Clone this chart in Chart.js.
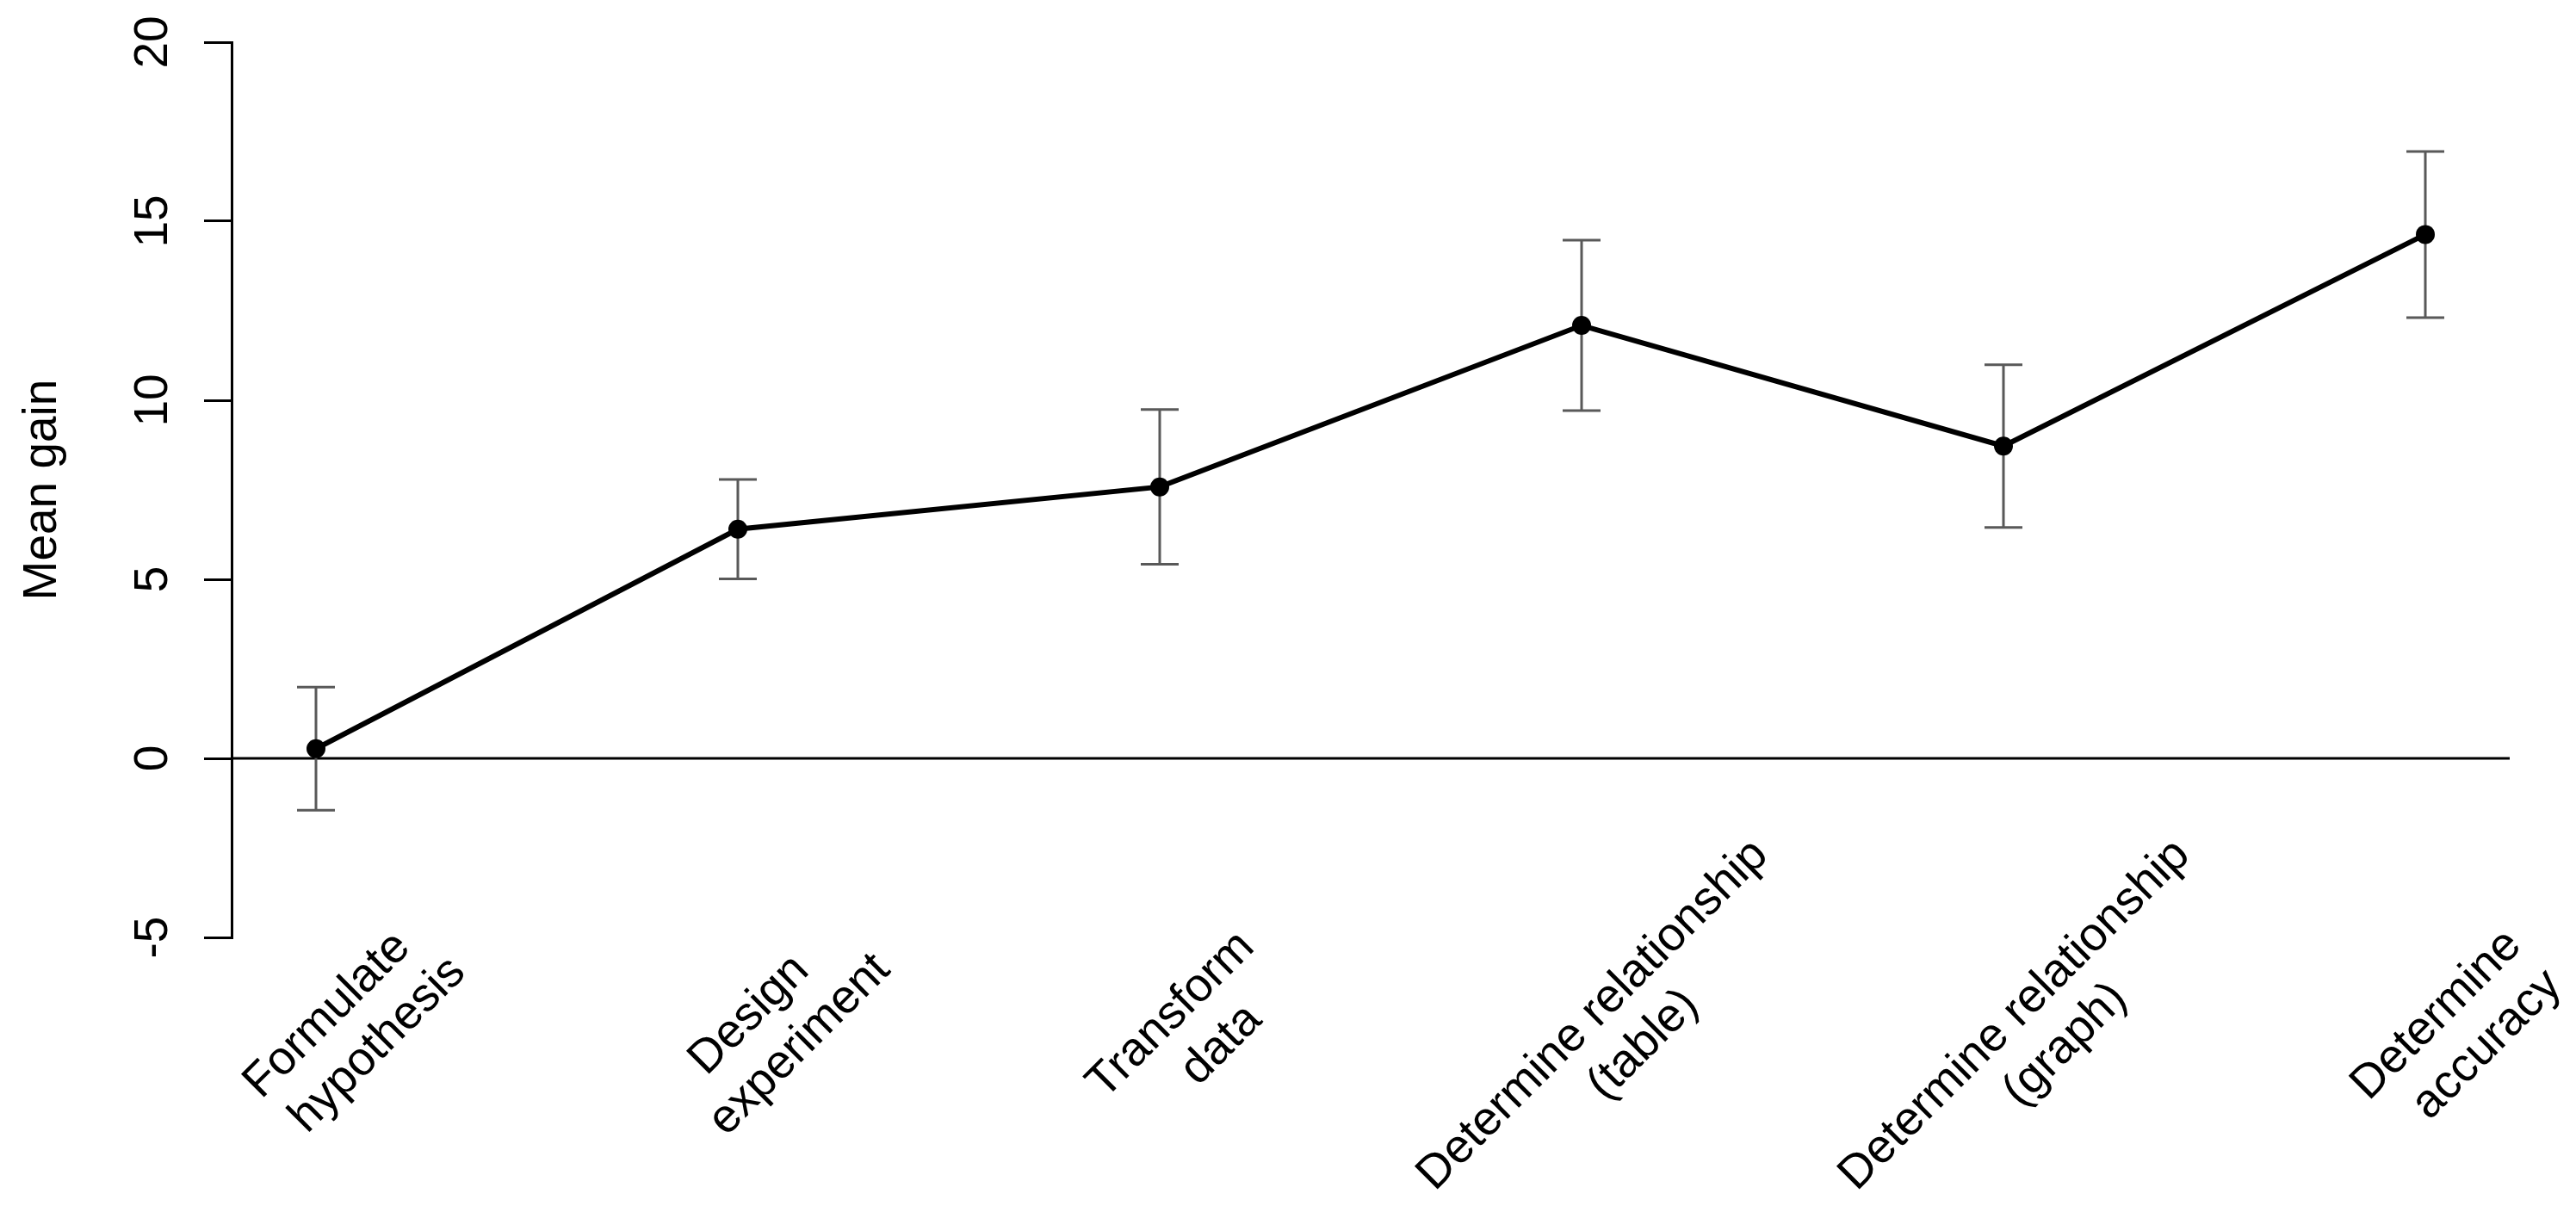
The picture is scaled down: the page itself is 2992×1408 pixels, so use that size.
<!DOCTYPE html>
<html>
<head>
<meta charset="utf-8">
<script src="https://cdn.jsdelivr.net/npm/chart.js@4.4.1/dist/chart.umd.min.js"></script>
<style>
  html, body { margin: 0; padding: 0; background: #fff; }
  canvas { display: block; }
</style>
</head>
<body>
<canvas id="chart" width="2992" height="1408"></canvas>
<script>
// skill labels, split in two lines like the original
const categories = [
    ['Formulate', 'hypothesis'],
    ['Design', 'experiment'],
    ['Transform', 'data'],
    ['Determine relationship', '(table)'],
    ['Determine relationship', '(graph)'],
    ['Determine', 'accuracy']
];
const meanGain = [0.27, 6.4, 7.58, 12.09, 8.72, 14.63];
const errHalf = [1.72, 1.39, 2.16, 2.38, 2.27, 2.32];
const yTicks = [-5, 0, 5, 10, 15, 20];
const yTitle = 'Mean gain';

const FONT = '"Liberation Sans", Arial, sans-serif';

const decor = {
    id: 'decor',
    beforeDatasetsDraw(chart) {
        const ctx = chart.ctx;
        const x = chart.scales.x, y = chart.scales.y;
        const area = chart.chartArea;

        // horizontal line at zero
        ctx.save();
        ctx.strokeStyle = '#000';
        ctx.lineWidth = 3;
        ctx.beginPath();
        ctx.moveTo(area.left, y.getPixelForValue(0));
        ctx.lineTo(area.right, y.getPixelForValue(0));
        ctx.stroke();

        // error bars
        ctx.strokeStyle = '#595959';
        ctx.lineWidth = 3;
        meanGain.forEach((v, i) => {
            const px = x.getPixelForValue(i);
            const top = y.getPixelForValue(v + errHalf[i]);
            const bot = y.getPixelForValue(v - errHalf[i]);
            ctx.beginPath();
            ctx.moveTo(px, top); ctx.lineTo(px, bot);
            ctx.moveTo(px - 22, top); ctx.lineTo(px + 22, top);
            ctx.moveTo(px - 22, bot); ctx.lineTo(px + 22, bot);
            ctx.stroke();
        });
        ctx.restore();
    },
    afterDraw(chart) {
        const ctx = chart.ctx;
        const x = chart.scales.x, y = chart.scales.y;
        const area = chart.chartArea;

        ctx.save();
        ctx.fillStyle = '#000';
        ctx.font = '55px ' + FONT;

        // y tick labels, turned like in R
        ctx.textAlign = 'center';
        ctx.textBaseline = 'alphabetic';
        yTicks.forEach(t => {
            ctx.save();
            ctx.translate(194, y.getPixelForValue(t));
            ctx.rotate(-Math.PI / 2);
            ctx.fillText(String(t), 0, 0);
            ctx.restore();
        });

        // y title
        ctx.save();
        ctx.translate(65, (area.top + area.bottom) / 2);
        ctx.rotate(-Math.PI / 2);
        ctx.fillText(yTitle, 0, 0);
        ctx.restore();

        // x labels at 45 degrees, second line nudged along the text
        ctx.textBaseline = 'middle';
        const lineH = 66;
        categories.forEach((lines, i) => {
            ctx.save();
            ctx.translate(x.getPixelForValue(i) + 38, area.bottom + 101);
            ctx.rotate(-Math.PI / 4);
            lines.forEach((txt, k) => {
                const off = k - (lines.length - 1) / 2;
                ctx.fillText(txt, off * 17 - 1.5, off * lineH + 8);
            });
            ctx.restore();
        });
        ctx.restore();
    }
};

new Chart(document.getElementById('chart'), {
    type: 'line',
    data: {
        datasets: [{
            data: meanGain.map((v, i) => ({ x: i, y: v })),
            borderColor: '#000',
            borderWidth: 6,
            backgroundColor: '#000',
            pointRadius: 11,
            pointBorderWidth: 0,
            pointHoverRadius: 11,
            tension: 0
        }]
    },
    options: {
        responsive: false,
        animation: false,
        devicePixelRatio: 1,
        layout: {
            padding: { left: 237, right: 77, top: 49, bottom: 319 }
        },
        plugins: {
            legend: { display: false },
            tooltip: { enabled: false }
        },
        scales: {
            x: {
                type: 'linear',
                min: -0.2,
                max: 5.2,
                display: false
            },
            y: {
                min: -5,
                max: 20,
                afterBuildTicks: axis => {
                    axis.ticks = yTicks.map(v => ({ value: v }));
                },
                ticks: { display: false },
                grid: {
                    drawOnChartArea: false,
                    drawTicks: true,
                    tickLength: 32,
                    color: '#000',
                    lineWidth: 3
                },
                border: { display: true, color: '#000', width: 3 }
            }
        }
    },
    plugins: [decor]
});
</script>
</body>
</html>
